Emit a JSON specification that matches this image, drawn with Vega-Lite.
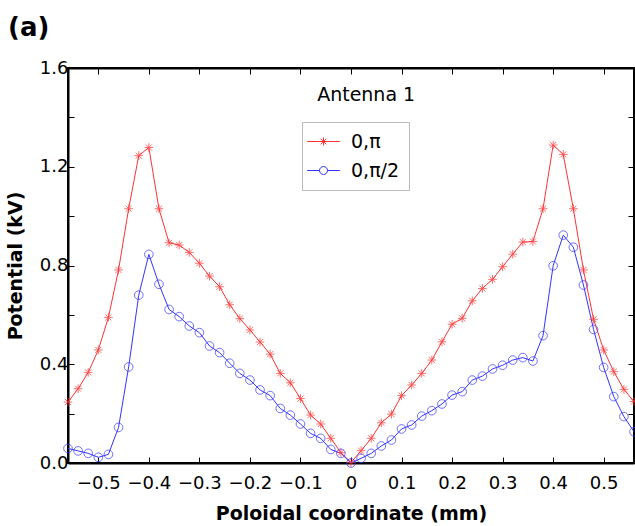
{
"$schema": "https://vega.github.io/schema/vega-lite/v6.json",
"width": 566, "height": 395,
"autosize": {"type": "none"},
"padding": {"left": 68, "top": 68, "right": 1, "bottom": 63},
"background": "white",
"title": {"text": "(a)", "anchor": "start", "frame": "group", "dx": -60, "offset": 18, "fontSize": 26, "fontWeight": "bold", "font": "DejaVu Sans", "color": "black"},
"config": {
  "view": {"stroke": "black", "strokeWidth": 2},
  "axis": {"grid": false, "domainColor": "black", "domainWidth": 2, "tickColor": "black", "tickWidth": 1, "tickSize": -6, "labelFont": "DejaVu Sans", "labelFontSize": 18, "labelColor": "black", "titleFont": "DejaVu Sans", "titleFontSize": 19, "titleFontWeight": "bold", "titleColor": "black"},
  "legend": {"labelFont": "DejaVu Sans", "labelFontSize": 19, "labelColor": "black"}
},
"datasets": {"d": [
{"x":-0.56,"v":0.247,"s":"0,π"},{"x":-0.54,"v":0.301,"s":"0,π"},{"x":-0.52,"v":0.367,"s":"0,π"},{"x":-0.50,"v":0.458,"s":"0,π"},{"x":-0.48,"v":0.590,"s":"0,π"},{"x":-0.46,"v":0.782,"s":"0,π"},{"x":-0.44,"v":1.030,"s":"0,π"},{"x":-0.42,"v":1.245,"s":"0,π"},{"x":-0.40,"v":1.278,"s":"0,π"},{"x":-0.38,"v":1.030,"s":"0,π"},{"x":-0.36,"v":0.892,"s":"0,π"},{"x":-0.34,"v":0.883,"s":"0,π"},{"x":-0.32,"v":0.853,"s":"0,π"},{"x":-0.30,"v":0.809,"s":"0,π"},{"x":-0.28,"v":0.757,"s":"0,π"},{"x":-0.26,"v":0.714,"s":"0,π"},{"x":-0.24,"v":0.641,"s":"0,π"},{"x":-0.22,"v":0.585,"s":"0,π"},{"x":-0.20,"v":0.539,"s":"0,π"},{"x":-0.18,"v":0.490,"s":"0,π"},{"x":-0.16,"v":0.441,"s":"0,π"},{"x":-0.14,"v":0.363,"s":"0,π"},{"x":-0.12,"v":0.325,"s":"0,π"},{"x":-0.10,"v":0.261,"s":"0,π"},{"x":-0.08,"v":0.194,"s":"0,π"},{"x":-0.06,"v":0.158,"s":"0,π"},{"x":-0.04,"v":0.100,"s":"0,π"},{"x":-0.02,"v":0.042,"s":"0,π"},{"x":0.00,"v":0.002,"s":"0,π"},{"x":0.02,"v":0.050,"s":"0,π"},{"x":0.04,"v":0.100,"s":"0,π"},{"x":0.06,"v":0.163,"s":"0,π"},{"x":0.08,"v":0.198,"s":"0,π"},{"x":0.10,"v":0.273,"s":"0,π"},{"x":0.12,"v":0.316,"s":"0,π"},{"x":0.14,"v":0.363,"s":"0,π"},{"x":0.16,"v":0.417,"s":"0,π"},{"x":0.18,"v":0.491,"s":"0,π"},{"x":0.20,"v":0.562,"s":"0,π"},{"x":0.22,"v":0.586,"s":"0,π"},{"x":0.24,"v":0.657,"s":"0,π"},{"x":0.26,"v":0.707,"s":"0,π"},{"x":0.28,"v":0.744,"s":"0,π"},{"x":0.30,"v":0.795,"s":"0,π"},{"x":0.32,"v":0.846,"s":"0,π"},{"x":0.34,"v":0.895,"s":"0,π"},{"x":0.36,"v":0.897,"s":"0,π"},{"x":0.38,"v":1.030,"s":"0,π"},{"x":0.40,"v":1.288,"s":"0,π"},{"x":0.42,"v":1.250,"s":"0,π"},{"x":0.44,"v":1.030,"s":"0,π"},{"x":0.46,"v":0.782,"s":"0,π"},{"x":0.48,"v":0.582,"s":"0,π"},{"x":0.50,"v":0.458,"s":"0,π"},{"x":0.52,"v":0.370,"s":"0,π"},{"x":0.54,"v":0.298,"s":"0,π"},{"x":0.56,"v":0.249,"s":"0,π"},
{"x":-0.56,"v":0.059,"s":"0,π/2"},{"x":-0.54,"v":0.049,"s":"0,π/2"},{"x":-0.52,"v":0.039,"s":"0,π/2"},{"x":-0.50,"v":0.023,"s":"0,π/2"},{"x":-0.48,"v":0.035,"s":"0,π/2"},{"x":-0.46,"v":0.144,"s":"0,π/2"},{"x":-0.44,"v":0.389,"s":"0,π/2"},{"x":-0.42,"v":0.680,"s":"0,π/2"},{"x":-0.40,"v":0.845,"s":"0,π/2"},{"x":-0.38,"v":0.724,"s":"0,π/2"},{"x":-0.36,"v":0.622,"s":"0,π/2"},{"x":-0.34,"v":0.593,"s":"0,π/2"},{"x":-0.32,"v":0.555,"s":"0,π/2"},{"x":-0.30,"v":0.528,"s":"0,π/2"},{"x":-0.28,"v":0.474,"s":"0,π/2"},{"x":-0.26,"v":0.447,"s":"0,π/2"},{"x":-0.24,"v":0.404,"s":"0,π/2"},{"x":-0.22,"v":0.363,"s":"0,π/2"},{"x":-0.20,"v":0.336,"s":"0,π/2"},{"x":-0.18,"v":0.296,"s":"0,π/2"},{"x":-0.16,"v":0.273,"s":"0,π/2"},{"x":-0.14,"v":0.221,"s":"0,π/2"},{"x":-0.12,"v":0.194,"s":"0,π/2"},{"x":-0.10,"v":0.158,"s":"0,π/2"},{"x":-0.08,"v":0.120,"s":"0,π/2"},{"x":-0.06,"v":0.100,"s":"0,π/2"},{"x":-0.04,"v":0.055,"s":"0,π/2"},{"x":-0.02,"v":0.039,"s":"0,π/2"},{"x":0.00,"v":0.000,"s":"0,π/2"},{"x":0.02,"v":0.019,"s":"0,π/2"},{"x":0.04,"v":0.039,"s":"0,π/2"},{"x":0.06,"v":0.069,"s":"0,π/2"},{"x":0.08,"v":0.093,"s":"0,π/2"},{"x":0.10,"v":0.138,"s":"0,π/2"},{"x":0.12,"v":0.154,"s":"0,π/2"},{"x":0.14,"v":0.190,"s":"0,π/2"},{"x":0.16,"v":0.212,"s":"0,π/2"},{"x":0.18,"v":0.239,"s":"0,π/2"},{"x":0.20,"v":0.275,"s":"0,π/2"},{"x":0.22,"v":0.289,"s":"0,π/2"},{"x":0.24,"v":0.336,"s":"0,π/2"},{"x":0.26,"v":0.352,"s":"0,π/2"},{"x":0.28,"v":0.381,"s":"0,π/2"},{"x":0.30,"v":0.396,"s":"0,π/2"},{"x":0.32,"v":0.417,"s":"0,π/2"},{"x":0.34,"v":0.427,"s":"0,π/2"},{"x":0.36,"v":0.413,"s":"0,π/2"},{"x":0.38,"v":0.516,"s":"0,π/2"},{"x":0.40,"v":0.799,"s":"0,π/2"},{"x":0.42,"v":0.923,"s":"0,π/2"},{"x":0.44,"v":0.874,"s":"0,π/2"},{"x":0.46,"v":0.721,"s":"0,π/2"},{"x":0.48,"v":0.541,"s":"0,π/2"},{"x":0.50,"v":0.387,"s":"0,π/2"},{"x":0.52,"v":0.269,"s":"0,π/2"},{"x":0.54,"v":0.188,"s":"0,π/2"},{"x":0.56,"v":0.127,"s":"0,π/2"}
], "note": [{"label": "Antenna 1"}]},
"layer": [
  {
    "data": {"name": "d"},
    "mark": {"type": "line", "strokeWidth": 1, "clip": false},
    "encoding": {
      "x": {"field": "x", "type": "quantitative", "scale": {"domain": [-0.56, 0.56], "nice": false, "zero": false}, "axis": {"orient": "bottom", "title": "Poloidal coordinate (mm)", "values": [-0.5,-0.4,-0.3,-0.2,-0.1,0,0.1,0.2,0.3,0.4,0.5], "labelExpr": "datum.value == 0 ? '0' : format(datum.value, '.1f')", "labelPadding": 17, "titlePadding": 12}},
      "y": {"field": "v", "type": "quantitative", "scale": {"domain": [0, 1.6], "nice": false}, "axis": {"orient": "left", "title": "Potential (kV)", "values": [0,0.2,0.4,0.6,0.8,1.0,1.2,1.4,1.6], "labelExpr": "round(datum.value*10) % 4 == 0 ? format(datum.value, '.1f') : ''", "labelPadding": 6, "titlePadding": 14}},
      "color": {"field": "s", "type": "nominal", "scale": {"domain": ["0,π", "0,π/2"], "range": ["#ff3333", "#3333ff"]}, "legend": {"title": null, "orient": "none", "legendX": 234, "legendY": 54, "strokeColor": "#bbbbbb", "padding": 9, "symbolSize": 400, "symbolOffset": 2, "symbolStrokeWidth": 1, "symbolFillColor": "transparent", "rowPadding": 8, "labelOffset": 17, "encode": {"symbols": {"update": {"shape": {"signal": "datum.value === '0,π' ? 'M-1.63,0H1.63M0,-0.4V0.4M-0.28,-0.28L0.28,0.28M-0.28,0.28L0.28,-0.28' : 'M-1.63,0H-0.4M0.4,0H1.63M-0.4,0A0.4,0.4 0 1,0 0.4,0A0.4,0.4 0 1,0 -0.4,0'"}, "fill": {"value": "transparent"}}}}}},
      "order": {"field": "x"}
    }
  },
  {
    "data": {"name": "d"},
    "transform": [{"filter": "datum.s === '0,π'"}],
    "mark": {"type": "point", "shape": "M-1,0H1M0,-1V1M-0.7,-0.7L0.7,0.7M-0.7,0.7L0.7,-0.7", "filled": false, "strokeWidth": 1, "size": 75, "clip": false},
    "encoding": {
      "x": {"field": "x", "type": "quantitative", "axis": null},
      "y": {"field": "v", "type": "quantitative", "axis": null},
      "color": {"field": "s", "type": "nominal"}
    }
  },
  {
    "data": {"name": "d"},
    "transform": [{"filter": "datum.s === '0,π/2'"}],
    "mark": {"type": "point", "shape": "circle", "filled": false, "strokeWidth": 1, "size": 75, "clip": false},
    "encoding": {
      "x": {"field": "x", "type": "quantitative", "axis": null},
      "y": {"field": "v", "type": "quantitative", "axis": null},
      "color": {"field": "s", "type": "nominal"}
    }
  },
  {
    "data": {"name": "note"},
    "mark": {"type": "text", "font": "DejaVu Sans", "fontSize": 19, "color": "black", "baseline": "middle", "align": "center"},
    "encoding": {
      "x": {"datum": 0.03, "type": "quantitative", "axis": null},
      "y": {"datum": 1.49, "type": "quantitative", "axis": null},
      "text": {"field": "label"}
    }
  },
  {
    "data": {"name": "d"},
    "mark": {"type": "point", "opacity": 0},
    "encoding": {
      "x": {"field": "x", "type": "quantitative", "axis": {"orient": "top", "title": null, "labels": false, "values": [-0.5,-0.4,-0.3,-0.2,-0.1,0,0.1,0.2,0.3,0.4,0.5]}},
      "y": {"field": "v", "type": "quantitative", "axis": {"orient": "right", "title": null, "labels": false, "values": [0,0.2,0.4,0.6,0.8,1.0,1.2,1.4,1.6]}}
    }
  }
],
"resolve": {"axis": {"x": "independent", "y": "independent"}}
}
